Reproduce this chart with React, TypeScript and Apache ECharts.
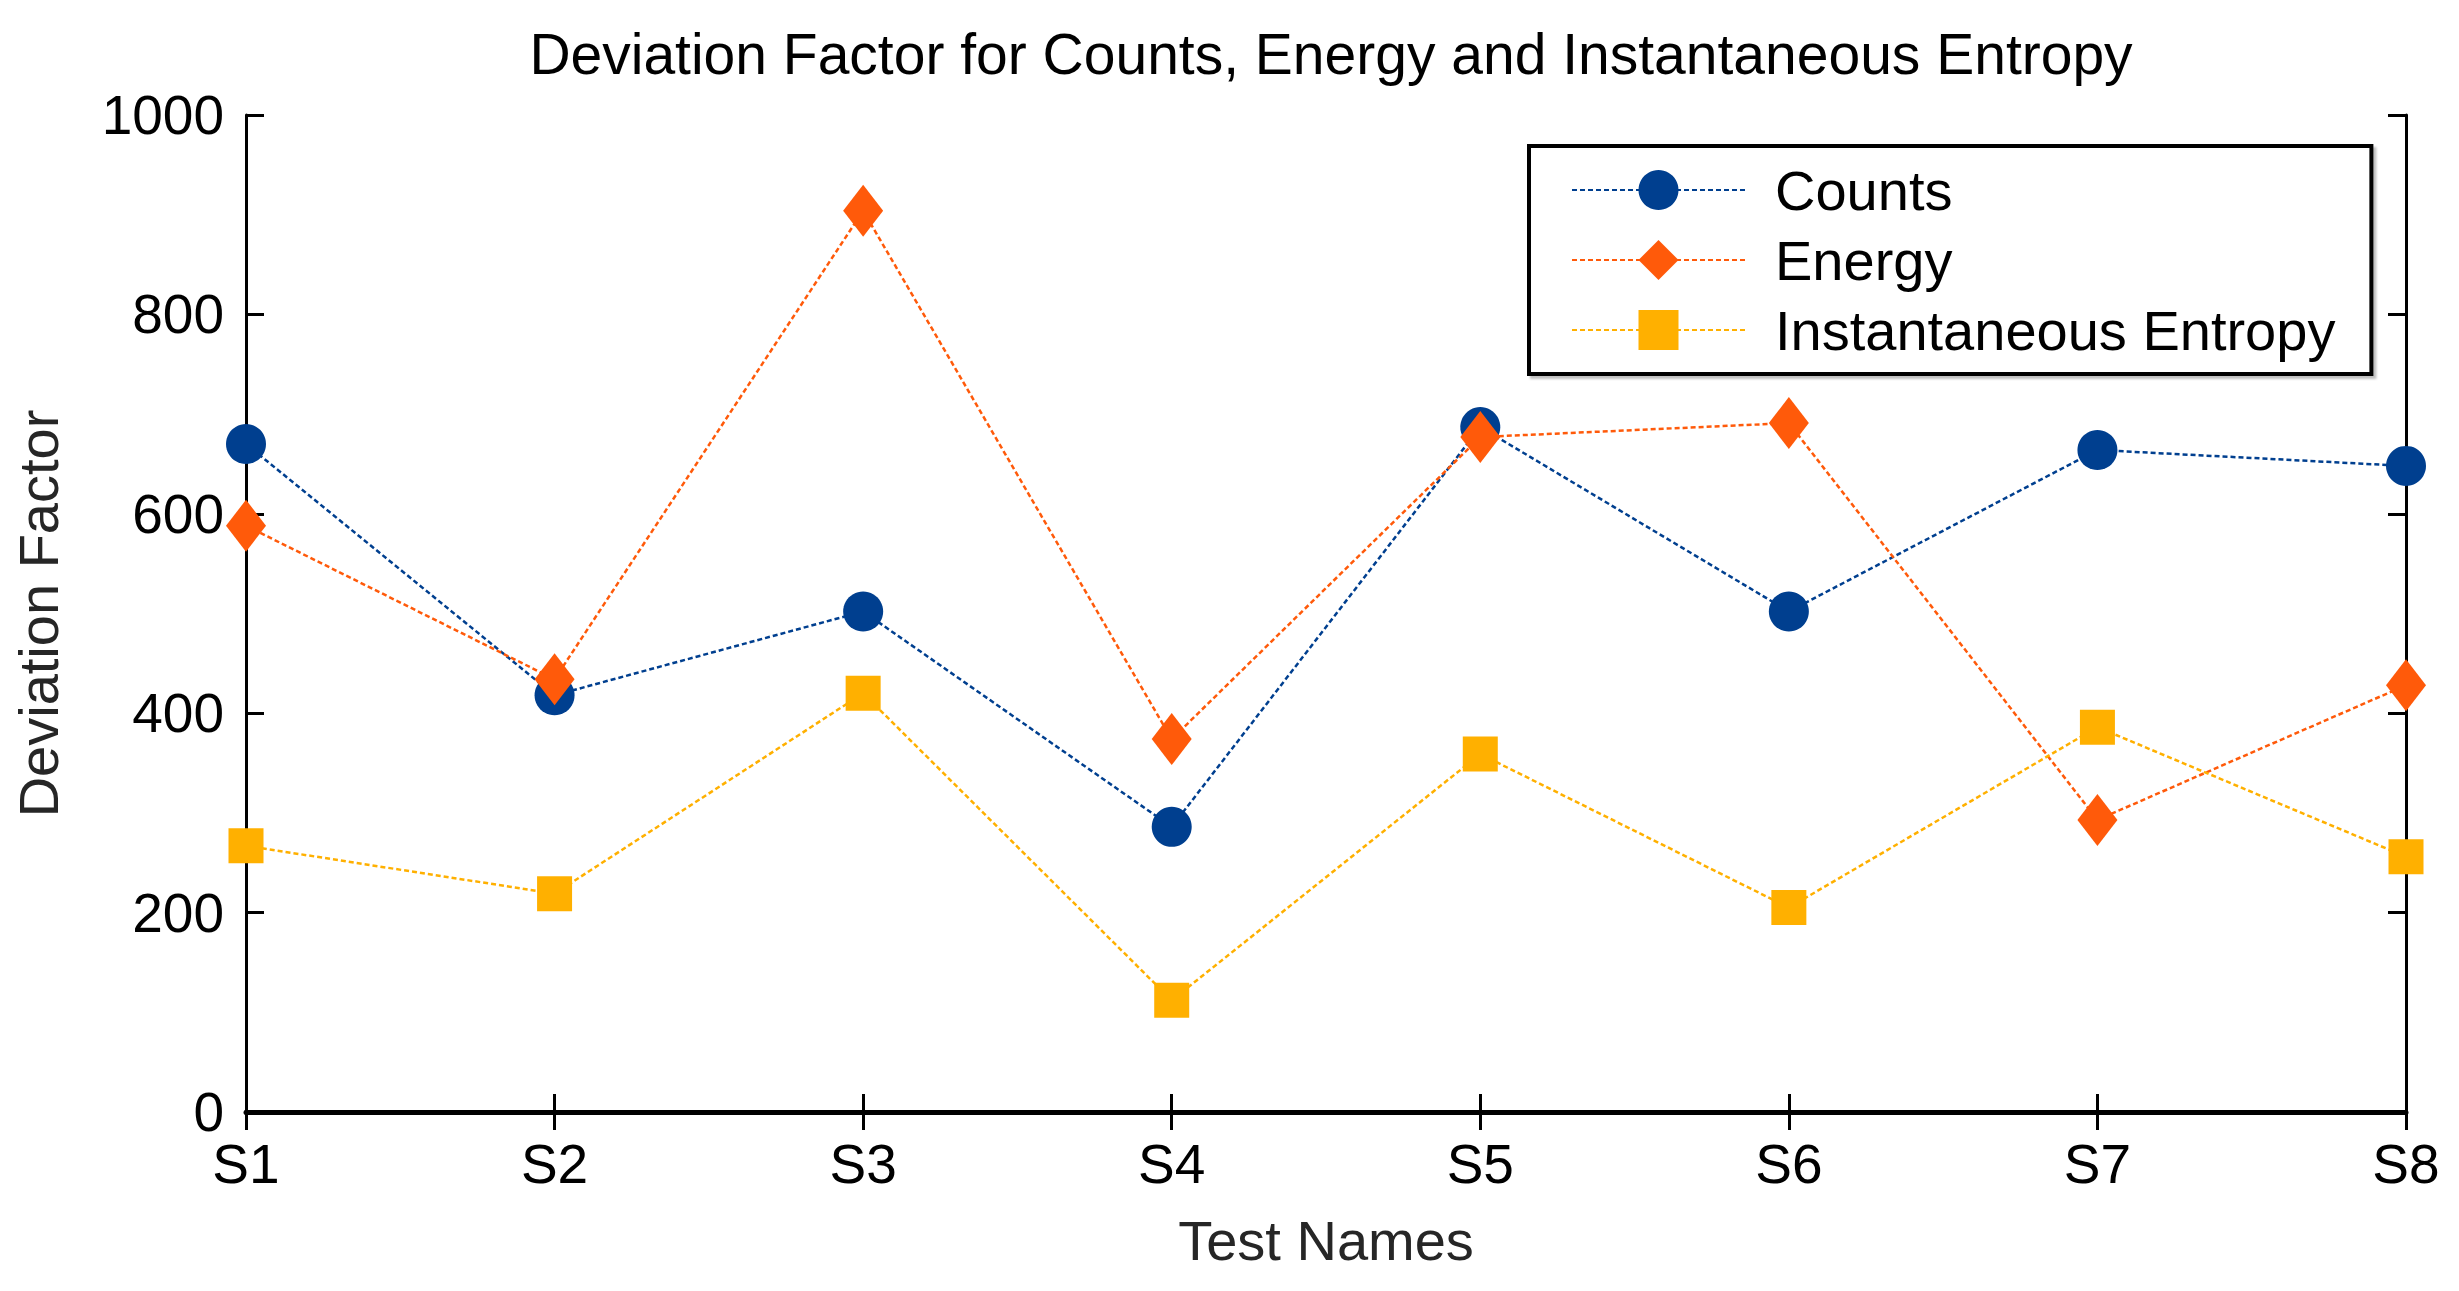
import { useEffect, useRef } from "react";
import * as echarts from "echarts";

const testNames = ["S1", "S2", "S3", "S4", "S5", "S6", "S7", "S8"];
const counts = [670, 418, 502, 286, 687, 502, 664, 648];
const energy = [588, 434, 904, 374, 677, 691, 293, 428];
const entropy = [267, 219, 420, 112, 359, 205, 386, 256];
const yMin = 0;
const yMax = 1000;
const yStep = 200;

const FONT = "'Liberation Sans', Arial, sans-serif";

const App = () => {
  const chartRef = useRef<HTMLDivElement>(null);

  useEffect(() => {
    if (!chartRef.current) return;
    const chart = echarts.init(chartRef.current, null, { renderer: "svg" });

    const tickStyle = { show: true, inside: true, length: 18, lineStyle: { color: "#000", width: 3 } };
    const lineDash = { width: 2.5, type: [5, 3] as number[] };

    chart.setOption({
      animation: false,
      backgroundColor: "#fff",
      textStyle: { fontFamily: FONT },
      title: {
        text: "Deviation Factor for Counts, Energy and Instantaneous Entropy",
        left: 1326,
        top: 20,
        textAlign: "center",
        textStyle: { fontFamily: FONT, fontSize: 57, fontWeight: "normal", color: "#000" },
      },
      legend: {
        orient: "vertical",
        left: 1529,
        top: 146,
        padding: [16, 36, 16, 42],
        itemWidth: 173,
        itemHeight: 50,
        itemGap: 14,
        borderColor: "#000",
        borderWidth: 4,
        backgroundColor: "#fff",
        shadowColor: "rgba(0,0,0,0.25)",
        shadowOffsetX: 3,
        shadowOffsetY: 3,
        shadowBlur: 2,
        textStyle: { fontFamily: FONT, fontSize: 56, lineHeight: 50, color: "#000", padding: [0, 0, 0, 25] },
        data: ["Counts", "Energy", "Instantaneous Entropy"],
      },
      grid: { left: 246, right: 53, top: 115, bottom: 179, outerBoundsMode: "none" },
      xAxis: [
        {
          type: "category",
          data: testNames,
          boundaryGap: false,
          name: "Test Names",
          nameLocation: "middle",
          nameGap: 100,
          nameTextStyle: { fontFamily: FONT, fontSize: 56, color: "#262626" },
          axisLine: { lineStyle: { color: "#000", width: 5 } },
          axisTick: tickStyle,
          axisLabel: { fontFamily: FONT, fontSize: 55, color: "#000", margin: 24 },
          splitLine: { show: false },
        },
        {
          type: "category",
          data: testNames,
          boundaryGap: false,
          position: "top",
          axisLine: { lineStyle: { color: "#000", width: 4 } },
          axisTick: tickStyle,
          axisLabel: { show: false },
          splitLine: { show: false },
        },
      ],
      yAxis: [
        {
          type: "value",
          min: yMin,
          max: yMax,
          interval: yStep,
          name: "Deviation Factor",
          nameLocation: "middle",
          nameGap: 180,
          nameTextStyle: { fontFamily: FONT, fontSize: 56, color: "#262626" },
          axisLine: { show: true, lineStyle: { color: "#000", width: 3 } },
          axisTick: tickStyle,
          axisLabel: { fontFamily: FONT, fontSize: 55, color: "#000", margin: 22, formatter: (v: number) => String(v) },
          splitLine: { show: false },
        },
        {
          type: "value",
          min: yMin,
          max: yMax,
          interval: yStep,
          position: "right",
          axisLine: { show: true, lineStyle: { color: "#000", width: 3 } },
          axisTick: tickStyle,
          axisLabel: { show: false },
          splitLine: { show: false },
        },
      ],
      series: [
        {
          name: "Counts",
          type: "line",
          data: counts,
          symbol: "circle",
          symbolSize: 40,
          color: "#003f8f",
          lineStyle: { ...lineDash, color: "#003f8f" },
          itemStyle: { color: "#003f8f" },
        },
        {
          name: "Energy",
          type: "line",
          data: energy,
          symbol: "diamond",
          symbolSize: [40, 52],
          color: "#ff5a0a",
          lineStyle: { ...lineDash, color: "#ff5a0a" },
          itemStyle: { color: "#ff5a0a" },
        },
        {
          name: "Instantaneous Entropy",
          type: "line",
          data: entropy,
          symbol: "rect",
          symbolSize: 35,
          color: "#ffb000",
          lineStyle: { ...lineDash, color: "#ffb000" },
          itemStyle: { color: "#ffb000" },
        },
      ],
    });

    return () => {
      chart.dispose();
    };
  }, []);

  return (
    <div
      ref={chartRef}
      style={{ position: "absolute", left: 0, top: 0, width: "2459px", height: "1291px", background: "#fff" }}
    />
  );
};

export default App;
